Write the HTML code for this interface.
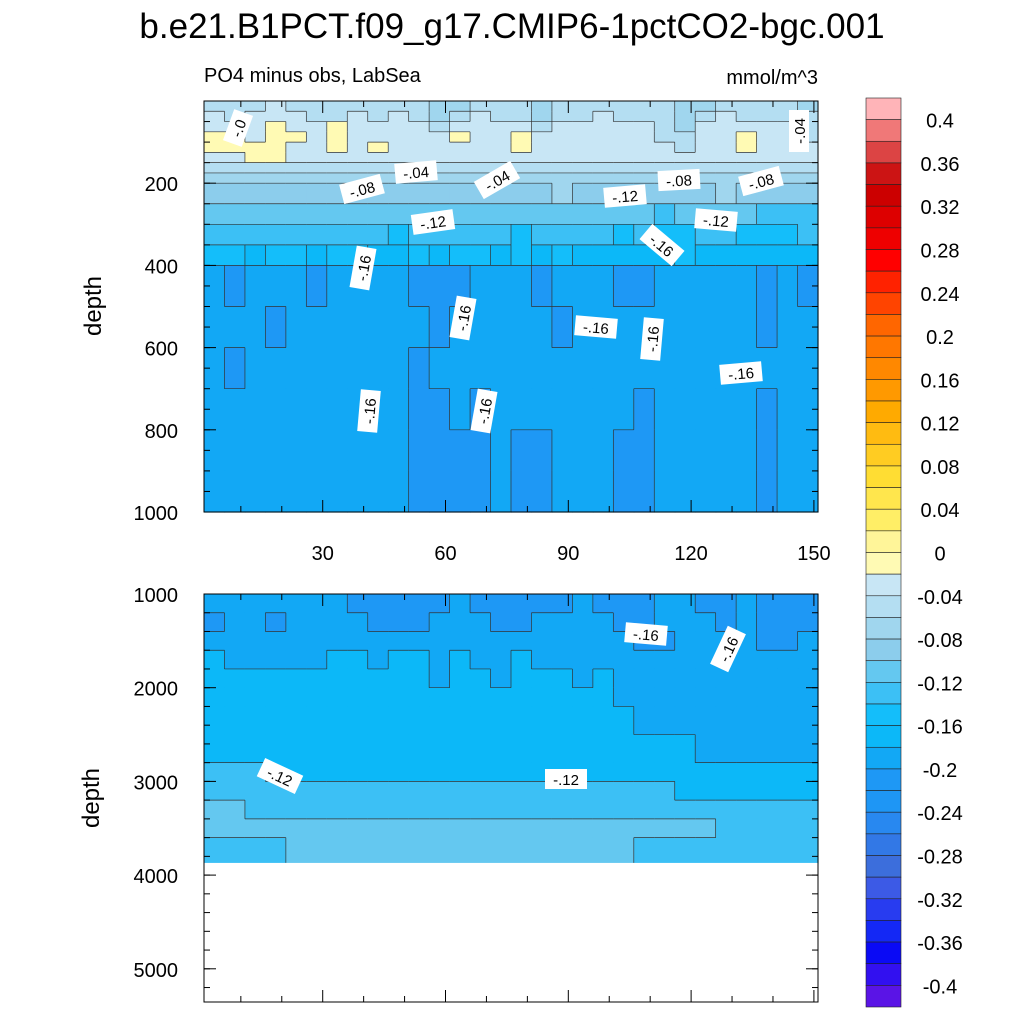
<!DOCTYPE html>
<html><head><meta charset="utf-8"><style>
body{margin:0;background:#fff;}
svg text{font-family:"Liberation Sans",sans-serif;}
</style></head><body>
<svg id="chart" width="1024" height="1024" xmlns="http://www.w3.org/2000/svg">
<text x="512" y="38" font-size="35" text-anchor="middle">b.e21.B1PCT.f09_g17.CMIP6-1pctCO2-bgc.001</text>
<text x="204" y="82" font-size="20">PO4 minus obs, LabSea</text>
<text x="818" y="84" font-size="20" text-anchor="end">mmol/m^3</text>
<g id="topPanel"></g>
<g id="botPanel"></g>
<g id="cbar"></g>
<text transform="translate(101,306) rotate(-90)" font-size="24" text-anchor="middle">depth</text>
<text transform="translate(99,798) rotate(-90)" font-size="24" text-anchor="middle">depth</text>
</svg>
<script>
// values in hundredths (mmol/m^3 *100), 30 time bins of 5 years (yr 1..151)
const timeEdges = [1,6,11,16,21,26,31,36,41,46,51,56,61,66,71,76,81,86,91,96,101,106,111,116,121,126,131,136,141,146,151];
const topDepthEdges = [0,25,50,75,100,125,150,175,200,250,300,350,400,500,600,700,800,900,1000];
const topValues = [
[-3,-3,-3,-1,-3,-3,-3,-3,-3,-3,-3,-5,-5,-3,-3,-3,-5,-3,-3,-3,-3,-3,-3,-5,-5,-3,-3,-3,-3,-5],
[-1,-3,-1,-1,-1,-3,-3,-1,-3,-1,-3,-5,-3,-1,-3,-3,-5,-3,-3,-1,-3,-3,-3,-5,-3,-1,-3,-3,-3,-3],
[-1,-1,-1,1,-1,-1,1,-1,-1,-1,-1,-3,-1,-1,-1,-1,-3,-1,-1,-1,-1,-1,-3,-5,-1,-1,-1,-1,-1,-3],
[1,1,-1,1,1,-1,1,-1,-1,-1,-1,-1,1,-1,-1,1,-1,-1,-1,-1,-1,-1,-3,-3,-1,-1,1,-1,-1,-3],
[1,1,1,1,-1,-1,1,-1,1,-1,-1,-1,-1,-1,-1,1,-1,-1,-1,-1,-1,-1,-1,-3,-1,-1,1,-1,-1,-1],
[-1,-1,1,1,-1,-1,-1,-1,-1,-1,-1,-1,-1,-1,-1,-1,-1,-1,-1,-1,-1,-1,-1,-1,-1,-1,-1,-1,-1,-1],
[-3,-3,-3,-3,-3,-3,-3,-3,-3,-3,-3,-3,-3,-3,-3,-3,-3,-3,-3,-3,-3,-3,-3,-3,-3,-3,-3,-3,-3,-3],
[-5,-5,-5,-5,-5,-5,-5,-5,-5,-5,-5,-5,-5,-5,-5,-5,-5,-5,-5,-5,-5,-5,-5,-5,-5,-5,-5,-5,-5,-5],
[-7,-7,-7,-7,-7,-7,-7,-7,-7,-7,-7,-7,-7,-7,-7,-7,-7,-5,-7,-7,-7,-7,-7,-7,-7,-5,-7,-7,-7,-7],
[-9,-9,-9,-9,-9,-9,-9,-9,-9,-9,-9,-9,-9,-9,-9,-9,-9,-9,-9,-9,-9,-9,-11,-9,-9,-9,-9,-11,-11,-11],
[-11,-11,-11,-11,-11,-11,-11,-11,-11,-13,-11,-11,-11,-11,-11,-13,-11,-11,-11,-11,-13,-11,-13,-13,-11,-11,-13,-13,-13,-11],
[-13,-13,-15,-13,-13,-15,-13,-13,-15,-15,-13,-15,-13,-13,-15,-13,-15,-13,-15,-15,-15,-15,-15,-13,-15,-15,-15,-15,-15,-15],
[-17,-19,-17,-17,-17,-19,-17,-17,-17,-17,-19,-19,-19,-17,-17,-17,-19,-17,-17,-17,-19,-19,-17,-17,-17,-17,-17,-19,-17,-19],
[-17,-17,-17,-19,-17,-17,-17,-17,-17,-17,-17,-19,-17,-17,-17,-17,-17,-19,-17,-17,-17,-17,-17,-17,-17,-17,-17,-19,-17,-17],
[-17,-19,-17,-17,-17,-17,-17,-17,-17,-17,-19,-17,-17,-17,-17,-17,-17,-17,-17,-17,-17,-17,-17,-17,-17,-17,-17,-17,-17,-17],
[-17,-17,-17,-17,-17,-17,-17,-17,-17,-17,-19,-19,-17,-19,-17,-17,-17,-17,-17,-17,-17,-19,-17,-17,-17,-17,-17,-19,-17,-17],
[-17,-17,-17,-17,-17,-17,-17,-17,-17,-17,-19,-19,-19,-19,-17,-19,-19,-17,-17,-17,-19,-19,-17,-17,-17,-17,-17,-19,-17,-17],
[-17,-17,-17,-17,-17,-17,-17,-17,-17,-17,-19,-19,-19,-19,-17,-19,-19,-17,-17,-17,-19,-19,-17,-17,-17,-17,-17,-19,-17,-17]
];
const botDepthEdges = [1000,1200,1400,1600,1800,2000,2200,2500,2800,3000,3200,3400,3600,3870];
const botValues = [
[-17,-17,-17,-17,-17,-17,-17,-19,-19,-19,-19,-19,-17,-19,-19,-19,-19,-19,-17,-19,-19,-19,-17,-17,-19,-19,-17,-19,-19,-19],
[-19,-17,-17,-19,-17,-17,-17,-17,-19,-19,-19,-17,-17,-17,-19,-19,-17,-17,-17,-17,-19,-19,-17,-17,-17,-19,-17,-19,-19,-19],
[-17,-17,-17,-17,-17,-17,-17,-17,-17,-17,-17,-17,-17,-17,-17,-17,-17,-17,-17,-17,-17,-19,-19,-17,-17,-17,-17,-19,-19,-17],
[-15,-17,-17,-17,-17,-17,-15,-15,-17,-15,-15,-17,-15,-17,-17,-15,-17,-17,-17,-17,-17,-17,-17,-17,-17,-17,-17,-17,-17,-17],
[-15,-15,-15,-15,-15,-15,-15,-15,-15,-15,-15,-17,-15,-15,-17,-15,-15,-15,-17,-15,-17,-17,-17,-17,-17,-17,-17,-17,-17,-17],
[-15,-15,-15,-15,-15,-15,-15,-15,-15,-15,-15,-15,-15,-15,-15,-15,-15,-15,-15,-15,-17,-17,-17,-17,-17,-17,-17,-17,-17,-17],
[-15,-15,-15,-15,-15,-15,-15,-15,-15,-15,-15,-15,-15,-15,-15,-15,-15,-15,-15,-15,-15,-17,-17,-17,-17,-17,-17,-17,-17,-17],
[-15,-15,-15,-15,-15,-15,-15,-15,-15,-15,-15,-15,-15,-15,-15,-15,-15,-15,-15,-15,-15,-15,-15,-15,-17,-17,-17,-17,-17,-17],
[-11,-11,-11,-15,-15,-15,-15,-15,-15,-15,-15,-15,-15,-15,-15,-15,-15,-15,-15,-15,-15,-15,-15,-15,-15,-15,-15,-15,-15,-15],
[-11,-11,-11,-11,-11,-11,-11,-11,-11,-11,-11,-11,-11,-11,-11,-11,-11,-11,-11,-11,-11,-11,-11,-15,-15,-15,-15,-15,-15,-15],
[-9,-9,-11,-11,-11,-11,-11,-11,-11,-11,-11,-11,-11,-11,-11,-11,-11,-11,-11,-11,-11,-11,-11,-11,-11,-11,-11,-11,-11,-11],
[-9,-9,-9,-9,-9,-9,-9,-9,-9,-9,-9,-9,-9,-9,-9,-9,-9,-9,-9,-9,-9,-9,-9,-9,-9,-11,-11,-11,-11,-11],
[-11,-11,-11,-11,-9,-9,-9,-9,-9,-9,-9,-9,-9,-9,-9,-9,-9,-9,-9,-9,-9,-11,-11,-11,-11,-11,-11,-11,-11,-11]
];
const cbarLabels = ["0.4","0.36","0.32","0.28","0.24","0.2","0.16","0.12","0.08","0.04","0","-0.04","-0.08","-0.12","-0.16","-0.2","-0.24","-0.28","-0.32","-0.36","-0.4"];
const warm = ["#FFFAB4","#FFF599","#FFEE66","#FFE64D","#FFDD33","#FFCC22","#FFBB11","#FFAA00","#FF9900","#FF8800","#FF7700","#FF6600","#FF4400","#FF2200","#FF0000","#EE0000","#DD0000","#CC0000","#CC1414","#DC4444","#F07878","#FFB4B8"];
const cool = ["#C8E6F5","#B4DEF2","#A0D6EE","#8CCDEC","#64C8F0","#3CC0F5","#14BEFA","#0CB8F8","#12A8F5","#1E98F5","#1E96F5","#2888F0","#3278E6","#3C6EDC","#3C5AE6","#283CF0","#1428F5","#0A0AF5","#3210F0","#5A14E6","#7A1EE6"];

const NS="http://www.w3.org/2000/svg";
function mk(tag,attrs,parent){const e=document.createElementNS(NS,tag);for(const k in attrs)e.setAttribute(k,attrs[k]);parent.appendChild(e);return e;}
const X0=204,X1=818;
const xs=t=>X0+(t-1)*(X1-X0)/150;
const yTop=d=>101+d*0.411;
const yBot=d=>594+(d-1000)*0.0937;
function bin(v){return v>0?Math.ceil(v/2):-Math.ceil(-v/2);}
function col(v){const b=bin(v);return b>0?warm[b-1]:cool[-b-1];}

function field(g,vals,dEdges,ys,name){
  for(let r=0;r<vals.length;r++)for(let c=0;c<vals[r].length;c++){
    const x=xs(timeEdges[c]),x2=xs(timeEdges[c+1]),y=ys(dEdges[r]),y2=ys(dEdges[r+1]);
    const e=mk('rect',{x:x,y:y,width:x2-x+0.6,height:y2-y+0.6,fill:col(vals[r][c])},g);
    
    
  }
  for(let r=0;r<vals.length;r++)for(let c=0;c<vals[r].length;c++){
    const b=bin(vals[r][c]);
    const x2=xs(timeEdges[c+1]),x=xs(timeEdges[c]),y=ys(dEdges[r]),y2=ys(dEdges[r+1]);
    if(c+1<vals[r].length&&bin(vals[r][c+1])!==b){const l=mk('line',{x1:x2,y1:y,x2:x2,y2:y2,stroke:'#333',"stroke-width":0.7},g);}
    if(r+1<vals.length&&bin(vals[r+1][c])!==b){const l=mk('line',{x1:x,y1:y2,x2:x2,y2:y2,stroke:'#333',"stroke-width":0.7},g);}
  }
}
function frame(g,yt,yb,ys,majors,minors,labels,withX){
  const f=mk('rect',{x:X0,y:yt,width:X1-X0,height:yb-yt,fill:'none',stroke:'#000',"stroke-width":1},g);
  
  for(const d of minors){const y=ys(d);if(y<yt||y>yb)continue;
    mk('line',{x1:X0,y1:y,x2:X0+6,y2:y,stroke:'#000'},g);mk('line',{x1:X1,y1:y,x2:X1-6,y2:y,stroke:'#000'},g);}
  for(const d of majors){const y=ys(d);
    mk('line',{x1:X0,y1:y,x2:X0+12,y2:y,stroke:'#000'},g);mk('line',{x1:X1,y1:y,x2:X1-12,y2:y,stroke:'#000'},g);
    if(labels){const t=mk('text',{x:X0-26,y:y+8,"font-size":20,"text-anchor":"end"},g);t.textContent=d;
      }}
  for(let t=10;t<=150;t+=10){const x=xs(t);const L=t%30===0?12:6;
    mk('line',{x1:x,y1:yt,x2:x,y2:yt+L,stroke:'#000'},g);mk('line',{x1:x,y1:yb,x2:x,y2:yb-L,stroke:'#000'},g);
    if(withX&&t%30===0){const tx=mk('text',{x:x,y:yb+48,"font-size":20,"text-anchor":"middle"},g);tx.textContent=t;
      }}
}
function lbl(g,x,y,txt,rot){
  const gg=mk('g',{transform:`translate(${x},${y}) rotate(${rot})`},g);
  
  const w=txt.length*9+6;
  mk('rect',{x:-w/2,y:-10,width:w,height:20,fill:'#fff'},gg);
  const t=mk('text',{x:0,y:6,"font-size":15,"text-anchor":"middle"},gg);t.textContent=txt;
}
const topG=document.getElementById('topPanel'),botP=document.getElementById('botPanel');
field(topG,topValues,topDepthEdges,yTop,'top');
const majT=[200,400,600,800,1000],minT=[];for(let d=50;d<1000;d+=50)minT.push(d);
frame(topG,101,512,yTop,majT,minT,true,true);
lbl(topG,238,128,'-.0',-70);lbl(topG,362,189,'-.08',-15);lbl(topG,416,172,'-.04',-5);lbl(topG,497,180,'-.04',-30);
lbl(topG,433,222,'-.12',-8);lbl(topG,363,268,'-.16',-80);lbl(topG,463,318,'-.16',-80);lbl(topG,596,327,'-.16',5);
lbl(topG,652,339,'-.16',-85);lbl(topG,369,411,'-.16',-85);lbl(topG,484,411,'-.16',-80);lbl(topG,625,196,'-.12',-5);
lbl(topG,679,180,'-.08',-3);lbl(topG,761,181,'-.08',-15);lbl(topG,716,220,'-.12',5);lbl(topG,662,245,'-.16',40);
lbl(topG,741,373,'-.16',-5);lbl(topG,799,131,'-.04',-90);
const botG=document.createElementNS(NS,'g');botP.appendChild(botG);
field(botG,botValues,botDepthEdges,yBot,'bottom');
mk('rect',{x:X0,y:yBot(3870),width:X1-X0,height:1002-yBot(3870),fill:'#fff'},botP);
const majB=[1000,2000,3000,4000,5000],minB=[];for(let d=1200;d<5400;d+=200)minB.push(d);
frame(botP,594,1002,yBot,majB,minB,true,false);
lbl(botP,280,776,'-.12',25);lbl(botP,566,779,'-.12',0);lbl(botP,646,634,'-.16',5);lbl(botP,728,649,'-.16',-65);

const cb=document.getElementById('cbar');
const cTop=98,cBot=1007,n=42,h=(cBot-cTop)/n;
const all=warm.slice().reverse().concat(cool);
for(let i=0;i<n;i++){const r=mk('rect',{x:866,y:cTop+i*h,width:35,height:h,fill:all[i],stroke:'#222',"stroke-width":0.6},cb);
  }
for(let i=0;i<cbarLabels.length;i++){const y=cTop+(i*2+1)*h;
  const t=mk('text',{x:940,y:y+8,"font-size":20,"text-anchor":"middle"},cb);t.textContent=cbarLabels[i];
  }
</script>
</body></html>
